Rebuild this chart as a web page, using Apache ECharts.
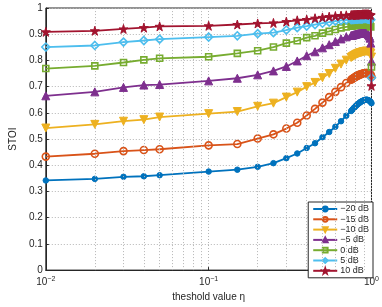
<!DOCTYPE html>
<html><head><meta charset="utf-8">
<script src="https://cdn.jsdelivr.net/npm/echarts@6/dist/echarts.min.js"></script>
<style>html,body{margin:0;padding:0;background:#fff}#c{width:382px;height:307px}</style>
</head><body><div id="c"></div>
<script>
var xs = [0.01,0.02,0.03,0.04,0.05,0.1,0.15,0.2,0.25,0.3,0.35,0.4,0.45,0.5,0.55,0.6,0.65,0.7,0.75,
  0.76,0.77,0.78,0.79,0.80,0.81,0.82,0.83,0.84,0.85,0.86,0.87,0.88,0.89,0.90,0.91,0.92,0.93,0.94,0.95,0.96,0.97,0.98,0.99,1.0];
var names = ['\u221220 dB','\u221215 dB','\u221210 dB','\u22125 dB','0 dB','5 dB','10 dB'];
var snrM20 = [0.342,0.348,0.356,0.358,0.362,0.376,0.383,0.394,0.408,0.427,0.445,0.466,0.484,0.507,0.527,0.547,0.568,0.589,0.607,
  0.611,0.615,0.619,0.622,0.626,0.629,0.632,0.635,0.637,0.640,0.642,0.644,0.645,0.647,0.648,0.649,0.650,0.650,0.650,0.649,0.648,0.646,0.644,0.641,0.637];
var snrM15 = [0.433,0.444,0.454,0.458,0.461,0.476,0.481,0.502,0.518,0.540,0.562,0.590,0.615,0.639,0.660,0.680,0.698,0.714,0.726,
  0.729,0.731,0.734,0.736,0.738,0.740,0.742,0.743,0.745,0.746,0.747,0.748,0.749,0.750,0.751,0.751,0.752,0.752,0.752,0.751,0.750,0.749,0.747,0.745,0.738];
var snrM10 = [0.542,0.556,0.568,0.574,0.584,0.597,0.605,0.625,0.637,0.660,0.679,0.700,0.716,0.734,0.750,0.770,0.786,0.801,0.811,
  0.814,0.816,0.818,0.820,0.822,0.824,0.825,0.827,0.828,0.829,0.830,0.831,0.832,0.833,0.834,0.834,0.835,0.835,0.835,0.834,0.833,0.832,0.830,0.827,0.813];
var snrM5 = [0.665,0.680,0.697,0.706,0.708,0.722,0.732,0.745,0.760,0.777,0.798,0.818,0.833,0.848,0.860,0.872,0.882,0.890,0.895,
  0.896,0.897,0.898,0.899,0.900,0.901,0.902,0.903,0.903,0.904,0.904,0.905,0.905,0.905,0.905,0.905,0.905,0.904,0.903,0.901,0.898,0.893,0.885,0.866,0.797];
var snr0 = [0.769,0.779,0.792,0.802,0.808,0.814,0.827,0.837,0.851,0.866,0.875,0.887,0.894,0.904,0.911,0.918,0.924,0.928,0.931,
  0.932,0.932,0.933,0.933,0.934,0.934,0.935,0.935,0.935,0.936,0.936,0.936,0.936,0.937,0.937,0.937,0.937,0.937,0.936,0.936,0.935,0.934,0.932,0.928,0.775];
var snr5 = [0.851,0.857,0.870,0.876,0.881,0.889,0.894,0.902,0.906,0.916,0.925,0.931,0.937,0.942,0.946,0.950,0.953,0.955,0.956,
  0.957,0.957,0.957,0.958,0.958,0.958,0.958,0.959,0.959,0.959,0.959,0.959,0.959,0.960,0.960,0.960,0.960,0.960,0.959,0.959,0.958,0.958,0.957,0.955,0.734];
var snr10 = [0.909,0.913,0.920,0.925,0.930,0.932,0.937,0.941,0.943,0.948,0.953,0.956,0.961,0.964,0.967,0.969,0.971,0.972,0.973,
  0.973,0.973,0.974,0.974,0.974,0.974,0.975,0.975,0.975,0.975,0.975,0.975,0.976,0.976,0.976,0.976,0.976,0.976,0.976,0.976,0.976,0.975,0.975,0.973,0.703];
var minorGridX = [0.02,0.03,0.04,0.05,0.06,0.07,0.08,0.09,0.2,0.3,0.4,0.5,0.6,0.7,0.8,0.9];

var allY = [snrM20,snrM15,snrM10,snrM5,snr0,snr5,snr10];
var colors = ['#0072BD','#D95319','#EDB120','#7E2F8E','#77AC30','#4DBEEE','#A2142F'];
var star = 'path://M50,0 L61,35 L98,35 L68,57 L79,91 L50,70 L21,91 L32,57 L2,35 L39,35 Z';
var syms = [
  {symbol:'circle', size:5.5, fill:true, rot:0},
  {symbol:'circle', size:7, fill:false, rot:0},
  {symbol:'triangle', size:8, fill:true, rot:180},
  {symbol:'triangle', size:8, fill:true, rot:0},
  {symbol:'rect', size:6, fill:false, rot:0},
  {symbol:'diamond', size:8, fill:false, rot:0},
  {symbol:star, size:9, fill:true, rot:0}
];
var FONT = 'Liberation Sans, Arial, Helvetica, sans-serif';
var series = allY.map(function(ys, i){
  var s = syms[i];
  return {
    name: names[i], type:'line', data: xs.map(function(x,j){return [x, ys[j]];}),
    symbol: s.symbol, symbolSize: s.size, symbolRotate: s.rot, showAllSymbol: true,
    lineStyle: {color: colors[i], width: 1.8},
    itemStyle: s.fill ? {color: colors[i], borderColor: colors[i], borderWidth: 1}
                      : {color: 'rgba(255,255,255,0)', borderColor: colors[i], borderWidth: 1.6},
    z: 3 + i
  };
});
series.unshift({
  type:'line', data: [], silent: true, z: 1,
  markLine: {symbol:'none', silent:true, animation:false, label:{show:false},
    lineStyle:{type:[1,2], color:'#b5b5b5', width:1},
    data: minorGridX.map(function(v){return {xAxis:v};})}
});
var chart = echarts.init(document.getElementById('c'), null, {renderer:'canvas'});
chart.setOption({
  animation: false,
  textStyle: {fontFamily: FONT},
  grid: {left:30, right:9, top:8, bottom:28, show:true, borderColor:'#262626', borderWidth:1, backgroundColor:'#fff'},
  legend: {
    orient:'vertical', right:9, top:202, itemWidth:24, itemHeight:6, itemGap:0.3,
    padding:[2,4,2,4], backgroundColor:'#fff', borderColor:'#262626', borderWidth:1, borderRadius:0,
    textStyle:{fontFamily:FONT, fontSize:9, color:'#262626', lineHeight:10, padding:[0,0,0,-2]},
    data: names
  },
  xAxis: {
    type:'log', logBase:10, min:0.01, max:1,
    name:'theshold value \u03b7', nameLocation:'middle', nameGap:17,
    nameTextStyle:{fontFamily:FONT, fontSize:10, color:'#262626'},
    axisLine:{lineStyle:{color:'#262626', width:1}},
    axisTick:{inside:true, length:3, lineStyle:{color:'#262626'}},
    splitLine:{show:true, lineStyle:{type:[1,2], color:'#b5b5b5', width:1}},
    axisLabel:{margin:5, color:'#262626', fontFamily:FONT,
      formatter:function(v){var e=Math.round(Math.log10(v)); return '{b|10}{s|'+(e<0?'\u2212'+(-e):e)+'}';},
      rich:{b:{fontSize:10, fontFamily:FONT, color:'#262626'}, s:{fontSize:7, fontFamily:FONT, color:'#262626', verticalAlign:'bottom', padding:[0,0,7,0]}}}
  },
  yAxis: {
    type:'value', min:0, max:1, interval:0.1,
    name:'STOI', nameLocation:'middle', nameGap:19, nameRotate:90,
    nameTextStyle:{fontFamily:FONT, fontSize:10, color:'#262626'},
    axisLine:{show:true, lineStyle:{color:'#262626', width:1}},
    axisTick:{show:true, inside:true, length:3, lineStyle:{color:'#262626'}},
    splitLine:{show:true, lineStyle:{type:[1,2], color:'#b5b5b5', width:1}},
    axisLabel:{margin:3, fontSize:10, color:'#262626', fontFamily:FONT,
      formatter:function(v){return String(Math.round(v*10)/10);}}
  },
  series: series
});
</script></body></html>
